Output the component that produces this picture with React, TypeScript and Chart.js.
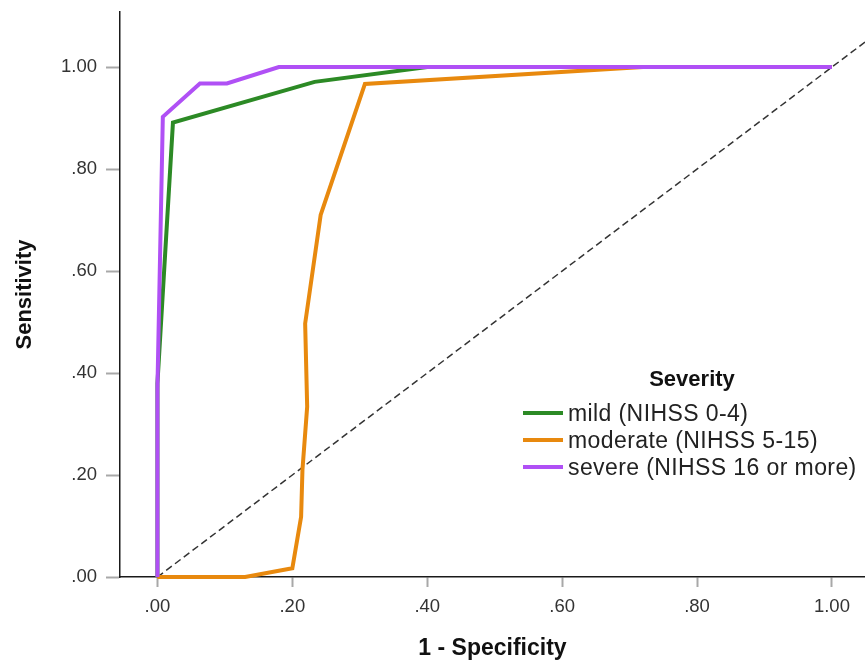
import React, { useEffect, useRef } from 'react';
import { Chart, registerables } from 'chart.js';

Chart.register(...registerables);

const seriesLabels = ['mild (NIHSS 0-4)', 'moderate (NIHSS 5-15)', 'severe (NIHSS 16 or more)'];
const seriesColors = ['#2C8A25', '#E8890E', '#B050F5'];
const legendTitle = 'Severity';

const mildX = [0, 0, 0.023, 0.233, 0.4, 1];
const mildY = [0, 0.38, 0.891, 0.971, 1, 1];
const moderateX = [0, 0.13, 0.2, 0.213, 0.215, 0.222, 0.219, 0.242, 0.3076, 0.72, 1];
const moderateY = [0, 0, 0.017, 0.118, 0.21, 0.334, 0.497, 0.71, 0.967, 1, 1];
const severeX = [0, 0, 0.008, 0.063, 0.103, 0.18, 1];
const severeY = [0, 0.37, 0.9025, 0.968, 0.968, 1, 1];
const refX = [0, 1.2];
const refY = [0, 1.2];

const xTicks = [0, 0.2, 0.4, 0.6, 0.8, 1];
const xTickLabels = ['.00', '.20', '.40', '.60', '.80', '1.00'];
const yTicks = [0, 0.2, 0.4, 0.6, 0.8, 1];
const yTickLabels = ['.00', '.20', '.40', '.60', '.80', '1.00'];
const xRange = [-0.0555, 1.049];
const yRange = [0, 1.108];

const FONT = "'Liberation Sans', Arial, sans-serif";

const pts = (xs: number[], ys: number[]) => xs.map((x, i) => ({ x, y: ys[i] }));

export default function App() {
  const ref = useRef<HTMLCanvasElement | null>(null);

  useEffect(() => {
    if (!ref.current) return;
    const seriesData = [pts(mildX, mildY), pts(moderateX, moderateY), pts(severeX, severeY)];
    const lineClip = { left: 6, top: 6, right: 0, bottom: 6 };
    const datasets: any[] = seriesData.map((d, i) => ({
      label: seriesLabels[i],
      data: d,
      borderColor: seriesColors[i],
      backgroundColor: seriesColors[i],
      borderWidth: 4,
      borderJoinStyle: 'miter',
      pointRadius: 0,
      fill: false,
      tension: 0,
      clip: lineClip,
      order: 3 - i,
    }));
    datasets.push({
      label: 'reference',
      data: pts(refX, refY),
      borderColor: '#333333',
      borderWidth: 1.5,
      borderDash: [7, 4],
      pointRadius: 0,
      fill: false,
      clip: 0,
      order: 10,
    });

    const chart = new Chart(ref.current, {
      type: 'line',
      data: { datasets },
      options: {
        animation: false,
        responsive: false,
        maintainAspectRatio: false,
        layout: { padding: { top: 12, right: 0, left: 0, bottom: 0 } },
        plugins: { legend: { display: false }, tooltip: { enabled: false } },
        scales: {
          x: {
            type: 'linear',
            min: xRange[0],
            max: xRange[1],
            afterFit: (s: any) => { s.height = 83; s.paddingLeft = 0; s.paddingRight = 0; },
            afterBuildTicks: (s: any) => { s.ticks = xTicks.map((v) => ({ value: v })); },
            ticks: {
              callback: (_v: any, i: number) => xTickLabels[i],
              font: { family: FONT, size: 18.5 },
              color: '#333333',
              padding: 9,
              maxRotation: 0,
              autoSkip: false,
            },
            grid: { drawOnChartArea: false, drawTicks: true, tickLength: 10, tickColor: '#a8a8a8', tickWidth: 2 },
            border: { display: true, color: '#1a1a1a', width: 1.5 },
            title: {
              display: true,
              text: '1 - Specificity',
              font: { family: FONT, size: 23, weight: 'bold', lineHeight: 0.96 },
              color: '#111111',
              padding: { top: 0, bottom: 0 },
            },
          },
          y: {
            type: 'linear',
            min: yRange[0],
            max: yRange[1],
            afterFit: (s: any) => { s.width = 120; s.paddingTop = 0; s.paddingBottom = 0; },
            afterBuildTicks: (s: any) => { s.ticks = yTicks.map((v) => ({ value: v })); },
            ticks: {
              callback: (_v: any, i: number) => yTickLabels[i],
              font: { family: FONT, size: 18.5 },
              color: '#333333',
              padding: 9,
              autoSkip: false,
            },
            grid: { drawOnChartArea: false, drawTicks: true, tickLength: 14, tickColor: '#a8a8a8', tickWidth: 2 },
            border: { display: true, color: '#1a1a1a', width: 1.5 },
            title: {
              display: true,
              text: 'Sensitivity',
              font: { family: FONT, size: 22, weight: 'bold', lineHeight: 1 },
              color: '#111111',
              padding: { top: 14, bottom: 0 },
            },
          },
        },
      } as any,
    });
    return () => chart.destroy();
  }, []);

  return (
    <div style={{ position: 'fixed', left: 0, top: 0, width: 865, height: 660, background: '#ffffff', overflow: 'hidden' }}>
      <canvas ref={ref} width={865} height={660} style={{ width: 865, height: 660, display: 'block' }} />
      <div style={{ position: 'absolute', left: 523, top: 366, fontFamily: FONT, color: '#222222' }}>
        <div style={{ position: 'absolute', left: 0, width: 338, top: 0, height: 26, lineHeight: '26px', textAlign: 'center', fontWeight: 'bold', fontSize: 22, color: '#111111' }}>
          {legendTitle}
        </div>
        {seriesLabels.map((lab, i) => (
          <div key={lab} style={{ position: 'absolute', left: 0, top: 34 + i * 27, height: 26, whiteSpace: 'nowrap' }}>
            <div style={{ position: 'absolute', left: 0, top: 11, width: 40, height: 4, background: seriesColors[i] }} />
            <div style={{ position: 'absolute', left: 45, top: 0, lineHeight: '26px', fontSize: 23, letterSpacing: '0.4px' }}>{lab}</div>
          </div>
        ))}
      </div>
    </div>
  );
}
